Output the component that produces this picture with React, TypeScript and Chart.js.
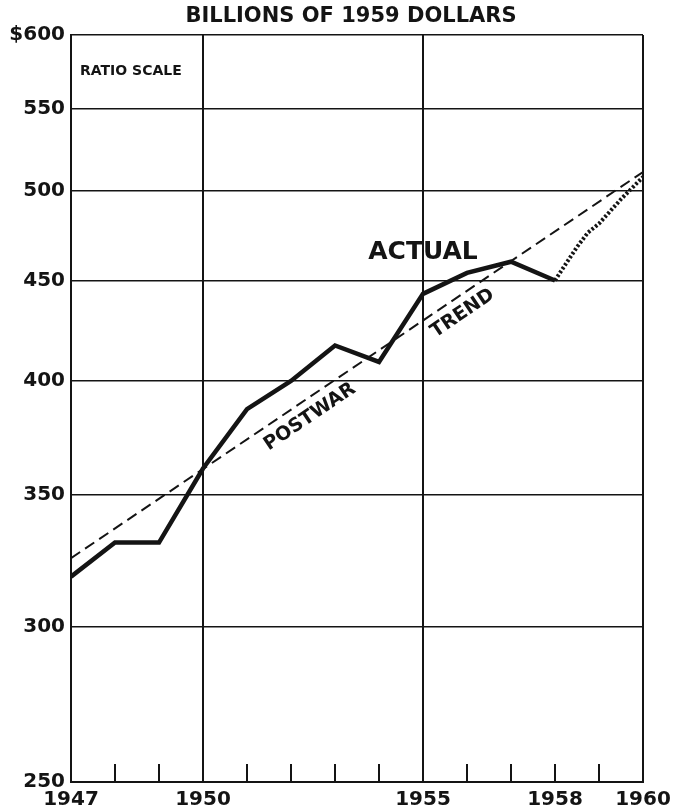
import React, { useEffect, useRef } from "react";
import { Chart, registerables } from "chart.js";

Chart.register(...registerables);

// ---- data ----
const actualYears = [1947, 1948, 1949, 1950, 1951, 1952, 1953, 1954, 1955, 1956, 1957, 1958];
const actualValues = [318, 331, 331, 361, 387, 400, 417, 409, 443, 454, 460, 450];
const prelimYears = [1958, 1958.25, 1958.5, 1958.75, 1959, 1959.5, 1960];
const prelimValues = [450, 459, 468, 476, 481, 495, 508];
const trendYears = [1947, 1960];
const trendValues = [325, 511];
const yTickValues = [250, 300, 350, 400, 450, 500, 550, 600];
const xLabeledYears = [1947, 1950, 1955, 1958, 1960];
const xFullGridYears = [1947, 1950, 1955, 1960];

const INK = "#141414";
const FONT = "'DejaVu Sans', 'Liberation Sans', sans-serif";

const textPlugin = {
  id: "textPlugin",
  beforeDatasetsDraw(chart: any) {
    const { ctx, chartArea, scales } = chart;
    const x = scales.x;
    ctx.save();
    ctx.strokeStyle = INK;
    ctx.lineWidth = 2;
    for (const t of x.ticks) {
      const v = Math.round(t.value);
      if (xFullGridYears.includes(v)) continue;
      const px = x.getPixelForValue(v);
      ctx.beginPath();
      ctx.moveTo(px, chartArea.bottom);
      ctx.lineTo(px, chartArea.bottom - 18);
      ctx.stroke();
    }
    ctx.restore();
  },
  afterDatasetsDraw(chart: any) {
    const { ctx, chartArea, scales } = chart;
    const x = scales.x;
    const y = scales.y;
    ctx.save();
    ctx.fillStyle = INK;
    ctx.textAlign = "center";
    ctx.textBaseline = "middle";

    // title
    ctx.font = `bold 21px ${FONT}`;
    ctx.fillText("BILLIONS OF 1959 DOLLARS", 351, 17);

    // ratio scale note
    ctx.textAlign = "left";
    ctx.font = `bold 14px ${FONT}`;
    ctx.fillText("RATIO SCALE", chartArea.left + 9, 71);

    // ACTUAL
    ctx.textAlign = "center";
    ctx.font = `bold 25px ${FONT}`;
    ctx.fillText("ACTUAL", x.getPixelForValue(1955), y.getPixelForValue(465));

    // rotated labels along trend
    const x1 = x.getPixelForValue(trendYears[0]);
    const y1 = y.getPixelForValue(trendValues[0]);
    const x2 = x.getPixelForValue(trendYears[1]);
    const y2 = y.getPixelForValue(trendValues[1]);
    const ang = Math.atan2(y2 - y1, x2 - x1);
    ctx.font = `bold 19px ${FONT}`;
    const put = (txt: string, yr: number, val: number) => {
      ctx.save();
      ctx.translate(x.getPixelForValue(yr), y.getPixelForValue(val));
      ctx.rotate(ang);
      ctx.fillText(txt, 0, 0);
      ctx.restore();
    };
    put("POSTWAR", 1952.43, 383.5);
    put("TREND", 1955.9, 433);
    ctx.restore();
  },
};

export default function App() {
  const ref = useRef<HTMLCanvasElement | null>(null);
  useEffect(() => {
    if (!ref.current) return;
    const chart = new Chart(ref.current, {
      type: "line",
      data: {
        datasets: [
          {
            label: "Postwar trend",
            data: trendYears.map((yr, i) => ({ x: yr, y: trendValues[i] })),
            borderColor: INK,
            borderWidth: 2,
            borderDash: [11, 6],
            pointRadius: 0,
            tension: 0,
          },
          {
            label: "Actual",
            data: actualYears.map((yr, i) => ({ x: yr, y: actualValues[i] })),
            borderColor: INK,
            borderWidth: 4.5,
            pointRadius: 0,
            tension: 0,
            borderJoinStyle: "miter",
          },
          {
            label: "Preliminary",
            data: prelimYears.map((yr, i) => ({ x: yr, y: prelimValues[i] })),
            borderColor: INK,
            borderWidth: 4,
            borderDash: [2.5, 2],
            pointRadius: 0,
            tension: 0,
          },
        ],
      },
      options: {
        responsive: false,
        animation: false,
        layout: { padding: { top: 35, right: 36, left: 0, bottom: 0 } },
        plugins: {
          legend: { display: false },
          title: { display: false },
          tooltip: { enabled: false },
        },
        scales: {
          x: {
            type: "linear",
            min: 1947,
            max: 1960,
            afterBuildTicks: (s: any) => {
              const arr = [];
              for (let v = 1947; v <= 1960; v++) arr.push({ value: v });
              s.ticks = arr;
            },
            afterFit: (s: any) => {
              s.height = 28;
            },
            ticks: {
              autoSkip: false,
              maxRotation: 0,
              padding: 6,
              color: INK,
              font: { family: FONT, size: 20, weight: "bold" },
              callback: (v: any) => (xLabeledYears.includes(Math.round(v)) ? String(Math.round(v)) : ""),
            },
            grid: {
              drawTicks: false,
              lineWidth: 2,
              color: (c: any) =>
                c.tick && xFullGridYears.includes(Math.round(c.tick.value)) ? INK : "rgba(0,0,0,0)",
            },
            border: { color: INK, width: 2 },
          },
          y: {
            type: "logarithmic",
            min: 250,
            max: 600,
            afterBuildTicks: (s: any) => {
              s.ticks = yTickValues.map((v) => ({ value: v }));
            },
            afterFit: (s: any) => {
              s.width = 71;
            },
            ticks: {
              padding: 6,
              color: INK,
              font: { family: FONT, size: 20, weight: "bold" },
              callback: (v: any) => (v === 600 ? "$600" : String(v)),
            },
            grid: { drawTicks: false, lineWidth: 1.6, color: INK },
            border: { color: INK, width: 2 },
          },
        },
      },
      plugins: [textPlugin],
    });
    return () => chart.destroy();
  }, []);
  return (
    <div style={{ position: "absolute", left: 0, top: 0, width: 679, height: 810, background: "#fff" }}>
      <canvas ref={ref} width={679} height={810} style={{ display: "block" }} />
    </div>
  );
}
